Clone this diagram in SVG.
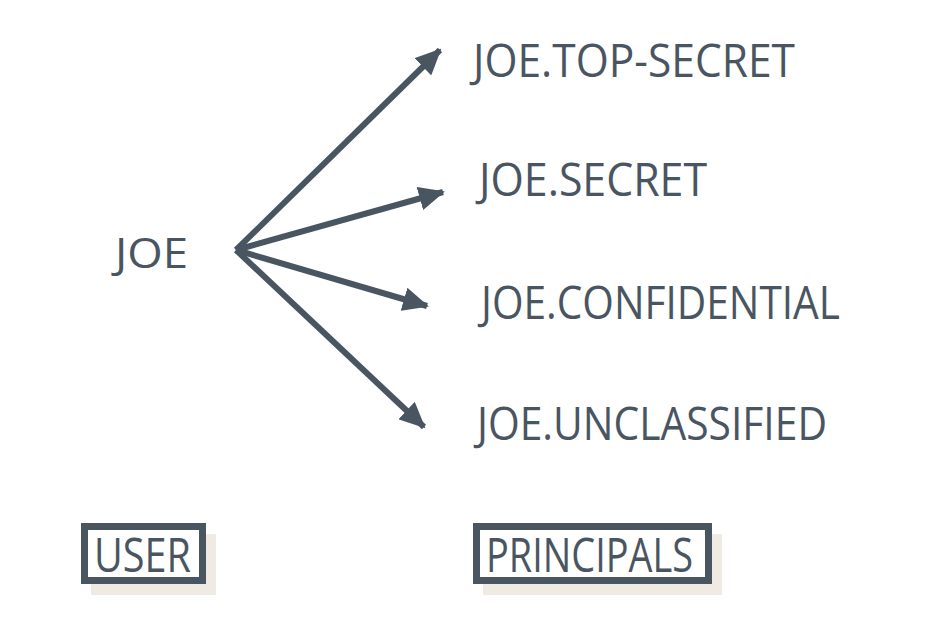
<svg xmlns="http://www.w3.org/2000/svg" width="938" height="630" viewBox="0 0 938 630">
<style>
.t{font-family:"Open Sans","Noto Sans","Liberation Sans",sans-serif;fill:#4a5562;font-size:46px}
.b{font-family:"Open Sans","Noto Sans","Liberation Sans",sans-serif;fill:#4a5562;font-size:47px}
.c{stroke:#4a5562;stroke-width:6;fill:none}
.box{fill:#fff;stroke:#4a5562;stroke-width:7}
.sh{fill:#efebe3}
</style>
<defs>
<marker id="ah" markerUnits="userSpaceOnUse" markerWidth="26" markerHeight="24" viewBox="0 0 26 24" refX="24" refY="12" orient="auto">
<path d="M0,0 L26,12 L0,24 Z" fill="#4a5562"/>
</marker>
</defs>
<rect width="938" height="630" fill="#fff"/>
<g id="connectors">
<line class="c" x1="236" y1="250" x2="440" y2="50" marker-end="url(#ah)"/>
<line class="c" x1="236" y1="250" x2="443" y2="192" marker-end="url(#ah)"/>
<line class="c" x1="236" y1="250" x2="427" y2="306" marker-end="url(#ah)"/>
<line class="c" x1="236" y1="250" x2="424" y2="427" marker-end="url(#ah)"/>
</g>
<g id="joe"><text class="t" x="115" y="268" textLength="73" lengthAdjust="spacingAndGlyphs" style="font-size:42px">JOE</text></g>
<g id="topsecret"><text class="t" x="473" y="77" textLength="322" lengthAdjust="spacingAndGlyphs">JOE.TOP-SECRET</text></g>
<g id="secret"><text class="t" x="479" y="196" textLength="228" lengthAdjust="spacingAndGlyphs">JOE.SECRET</text></g>
<g id="confidential"><text class="t" x="481" y="319" textLength="359" lengthAdjust="spacingAndGlyphs">JOE.CONFIDENTIAL</text></g>
<g id="unclassified"><text class="t" x="477" y="440" textLength="350" lengthAdjust="spacingAndGlyphs">JOE.UNCLASSIFIED</text></g>
<g id="user">
<rect class="sh" x="91" y="534" width="125" height="61"/>
<rect class="box" x="84.5" y="526.5" width="118" height="54"/>
<text class="b" x="94" y="572" textLength="97" lengthAdjust="spacingAndGlyphs">USER</text>
</g>
<g id="principals">
<rect class="sh" x="483" y="534" width="239" height="61"/>
<rect class="box" x="476.5" y="526.5" width="232" height="54"/>
<text class="b" x="486" y="572" textLength="207" lengthAdjust="spacingAndGlyphs">PRINCIPALS</text>
</g>
</svg>
